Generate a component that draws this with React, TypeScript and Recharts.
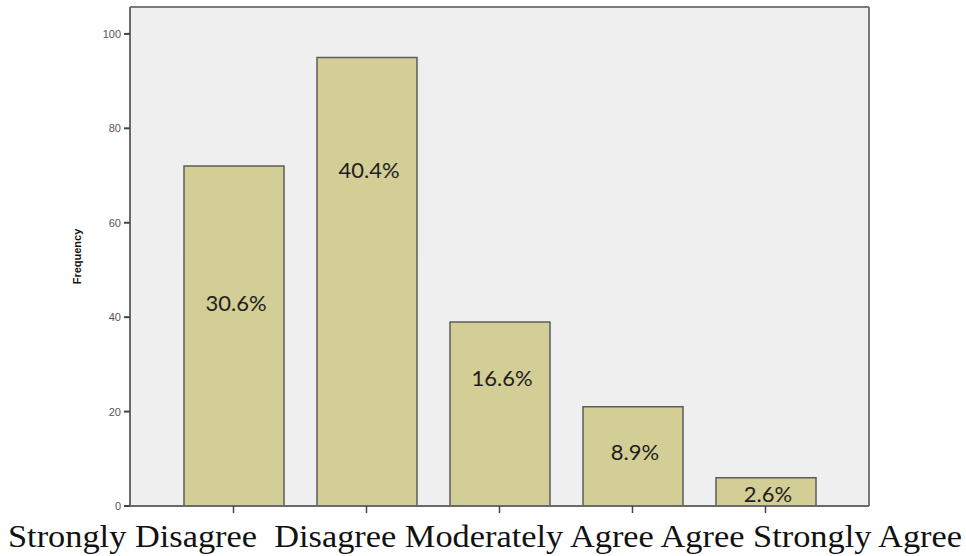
import React from 'react';
import { BarChart, Bar, XAxis, YAxis, CartesianGrid, LabelList } from 'recharts';

// --- data ---
const categories = ['Strongly Disagree', 'Disagree', 'Moderately Agree', 'Agree', 'Strongly Agree'];
const frequencies = [72, 95, 39, 21, 6];
const percentLabels = ['30.6%', '40.4%', '16.6%', '8.9%', '2.6%'];
const yTicks = [0, 20, 40, 60, 80, 100];
const yMax = 105.7;

const data = categories.map((c, i) => ({ name: c, value: frequencies[i], pct: percentLabels[i] }));

// where the percent text sits inside each bar, as a fraction of bar height from the bottom
const labelLift = [0.6, 0.75, 0.7, 0.55, 0.45];

const PctLabel = (props: any) => {
  const { x, y, width, height, index, value } = props;
  const cy = y + height - height * labelLift[index];
  return (
    <text
      x={x + width / 2 + 2}
      y={cy}
      textAnchor="middle"
      dominantBaseline="central"
      fontFamily="Lato, 'Open Sans', sans-serif"
      fontSize={22}
      fill="#1e1e1e"
    >
      {value}
    </text>
  );
};

// x axis keeps its tick marks but no text; the category line is drawn below
const NoTickText = () => <g />;

// y tick: small dash + number (x is tickSize + tickMargin left of the axis)
const YTick = (props: any) => {
  const { x, y, payload } = props;
  return (
    <g>
      <line x1={x + 2} y1={y} x2={x + 8} y2={y} stroke="#444" strokeWidth={2} />
      <text
        x={x - 1}
        y={y}
        textAnchor="end"
        dominantBaseline="central"
        fontSize={11}
        fill="#555"
        fontFamily="Arial, 'Liberation Sans', sans-serif"
      >
        {payload.value}
      </text>
    </g>
  );
};

// frame lines on the plot edges
const frameV = ({ offset }: any) => [offset.left, offset.left + offset.width];
const frameH = ({ offset }: any) => [offset.top, offset.top + offset.height];

const App: React.FC = () => {
  return (
    <div style={{ position: 'absolute', left: 0, top: 0, width: 966, height: 556, background: '#fff' }}>
      <BarChart
        width={966}
        height={556}
        data={data}
        margin={{ top: 7, right: 97, left: 40, bottom: 20 }}
        barSize={100}
      >
        <CartesianGrid
          fill="#efefef"
          stroke="#7a7a7a"
          strokeWidth={2}
          verticalCoordinatesGenerator={frameV}
          horizontalCoordinatesGenerator={frameH}
        />
        <XAxis
          dataKey="name"
          height={30}
          padding={{ left: 37, right: 37 }}
          tick={<NoTickText />}
          tickSize={7}
          stroke="#444"
          axisLine={{ stroke: '#6a6a6a', strokeWidth: 2 }}
          tickLine={{ stroke: '#444', strokeWidth: 1.5 }}
        />
        <YAxis
          width={90}
          domain={[0, yMax]}
          ticks={yTicks}
          allowDataOverflow
          tickSize={6}
          tickMargin={2}
          tick={<YTick />}
          tickLine={false}
          axisLine={{ stroke: '#6a6a6a', strokeWidth: 2 }}
          label={{
            value: 'Frequency',
            angle: -90,
            position: 'insideLeft',
            offset: 37,
            style: { fontSize: 11, fontWeight: 'bold', fill: '#111', fontFamily: 'Arial, Liberation Sans, sans-serif', textAnchor: 'middle' },
          }}
        />
        <Bar dataKey="value" fill="#d3cd96" stroke="#5c5c5c" strokeWidth={1.5} isAnimationActive={false}>
          <LabelList dataKey="pct" content={<PctLabel />} />
        </Bar>
      </BarChart>
      <svg width={966} height={60} style={{ position: 'absolute', left: 0, top: 506 }}>
        <text
          x={8}
          y={41}
          textLength={954}
          lengthAdjust="spacingAndGlyphs"
          fontFamily="'Liberation Serif', 'Times New Roman', serif"
          fontSize={32}
          fill="#111"
          style={{ whiteSpace: 'pre' }}
        >
          {categories[0] + '  ' + categories.slice(1).join(' ')}
        </text>
      </svg>
    </div>
  );
};

export default App;
